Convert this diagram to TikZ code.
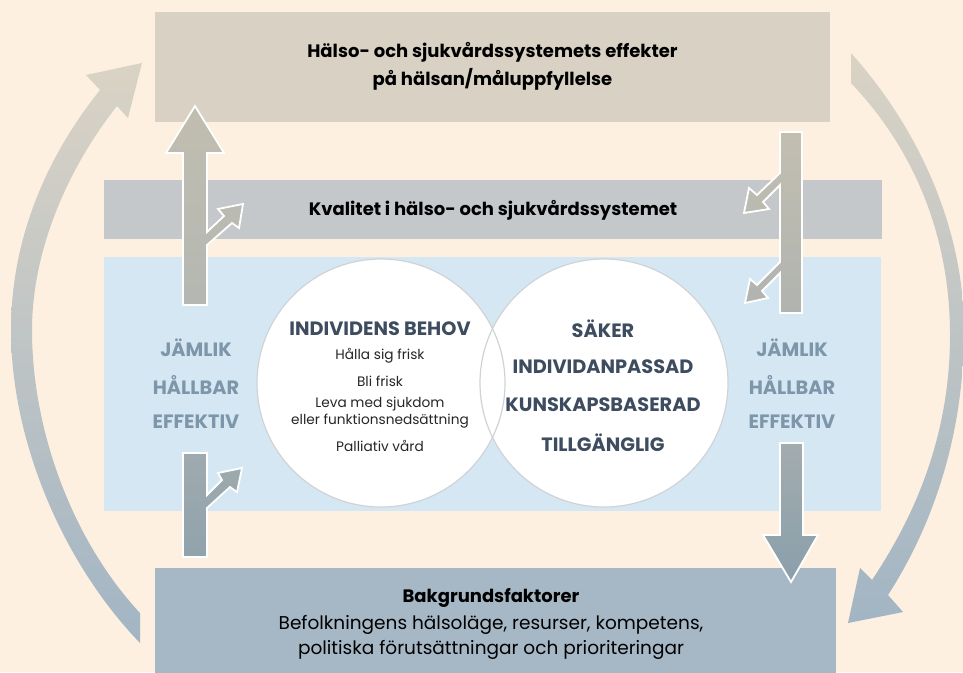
\documentclass[tikz,border=0pt]{standalone}
\usepackage{fontspec}
\setmainfont{Poppins}
\definecolor{bg}{RGB}{253,240,225}
\definecolor{topc}{RGB}{217,210,196}
\definecolor{kvalc}{RGB}{197,200,203}
\definecolor{bluec}{RGB}{214,231,244}
\definecolor{botc}{RGB}{166,184,198}
\definecolor{circc}{RGB}{208,211,214}
\definecolor{darktext}{RGB}{61,76,94}
\definecolor{sidetext}{RGB}{125,150,170}
\definecolor{arcTop}{RGB}{218,211,197}
\definecolor{arcBot}{RGB}{162,181,196}
\definecolor{ltTop}{RGB}{193,190,176}
\definecolor{ltBot}{RGB}{180,183,178}
\definecolor{lbTop}{RGB}{158,170,175}
\definecolor{lbBot}{RGB}{146,163,172}
\definecolor{rtTop}{RGB}{194,191,177}
\definecolor{rtBot}{RGB}{176,179,175}
\definecolor{rbTop}{RGB}{163,172,175}
\definecolor{rbBot}{RGB}{138,159,171}
\tikzset{
  band/.style={inner sep=0pt, outer sep=0pt},
  boxtxt/.style={font=\bfseries\fontsize{18}{28}\selectfont, align=center, text=black, inner sep=0pt},
  capstxt/.style={font=\bfseries\fontsize{19.3}{22}\selectfont, text=darktext, inner sep=0pt},
  smalltxt/.style={font=\fontsize{13.7}{17}\selectfont, text=black!85, inner sep=0pt, align=center},
  sidetxt/.style={font=\bfseries\fontsize{19.3}{22}\selectfont, text=sidetext, inner sep=0pt},
  bottxt/.style={font=\fontsize{18.5}{26}\selectfont, text=black, inner sep=0pt, align=center},
  venn/.style={circle, fill=white, draw=circc, line width=1.2pt, minimum size=248pt, inner sep=0pt},
  bigarrow/.style={draw=white, line width=1.8pt},
  arcarrow/.style={top color=arcTop, bottom color=arcBot, draw=none},
}
\begin{document}
\begin{tikzpicture}[x=1pt,y=-1pt]
\fill[bg] (0,0) rectangle (963,672);
\useasboundingbox (0,0) rectangle (963,672);

% big circular arrows
\path[arcarrow] (140,643) .. controls (62,562) and (11,440) .. (11,330)
  .. controls (11,242) and (44,160) .. (100,90)
  -- (86,75) -- (142,63) -- (128,118) -- (117,106)
  .. controls (68,168) and (32,250) .. (32,330)
  .. controls (32,430) and (72,540) .. (140,613) -- cycle;
\path[arcarrow] (851,53) .. controls (920,130) and (964,230) .. (964,330)
  .. controls (964,440) and (930,530) .. (888,595)
  -- (903,612) -- (848,623) -- (860,568) -- (872,580)
  .. controls (912,520) and (950,440) .. (950,335)
  .. controls (950,230) and (910,145) .. (851,83) -- cycle;

% boxes and bands
\node[band, fill=topc, minimum width=675pt, minimum height=110pt] (top) at (492.5,67) {};
\node[band, fill=kvalc, minimum width=778pt, minimum height=59pt] (kval) at (493,209.5) {};
\node[band, fill=bluec, minimum width=777pt, minimum height=254pt] (blue) at (492.5,384) {};
\node[band, fill=botc, minimum width=681pt, minimum height=110pt] (bot) at (495.5,623) {};

% Venn circles
\node[venn] (lc) at (381,383) {};
\node[venn] (rc) at (604,383) {};
\begin{scope}
  \clip (604,383) circle (124);
  \draw[circc, line width=1.2pt] (381,383) circle (124);
\end{scope}

% texts
\node[boxtxt] (toptxt) at (492.5,66) {Hälso- och sjukvårdssystemets effekter\\på hälsan/måluppfyllelse};
\node[boxtxt] (kvaltxt) at (493,210) {Kvalitet i hälso- och sjukvårdssystemet};

\node[capstxt] (behov) at (380,329) {INDIVIDENS BEHOV};
\node[smalltxt] (s1) at (380,356) {Hålla sig frisk};
\node[smalltxt] (s2) at (380,381) {Bli frisk};
\node[smalltxt] (s3) at (380,413) {Leva med sjukdom\\eller funktionsnedsättning};
\node[smalltxt] (s4) at (380,446) {Palliativ vård};

\node[capstxt] (r1) at (603,329) {SÄKER};
\node[capstxt] (r2) at (603,367) {INDIVIDANPASSAD};
\node[capstxt] (r3) at (603,405) {KUNSKAPSBASERAD};
\node[capstxt] (r4) at (603,443) {TILLGÄNGLIG};

\node[sidetxt] (l1) at (196,348) {JÄMLIK};
\node[sidetxt] (l2) at (196,385) {HÅLLBAR};
\node[sidetxt] (l3) at (196,422) {EFFEKTIV};
\node[sidetxt] (rr1) at (792,348) {JÄMLIK};
\node[sidetxt] (rr2) at (792,385) {HÅLLBAR};
\node[sidetxt] (rr3) at (792,422) {EFFEKTIV};

\node[bottxt, font=\bfseries\fontsize{18}{26}\selectfont] (bt1) at (491,598) {Bakgrundsfaktorer};
\node[bottxt] (bt2) at (491,625) {Befolkningens hälsoläge, resurser, kompetens,};
\node[bottxt] (bt3) at (491,650) {politiska förutsättningar och prioriteringar};

% straight arrows
\path[bigarrow, top color=ltTop, bottom color=ltBot]
  (195,106) -- (224,153) -- (207,153) -- (207,232) -- (224,216) -- (218,209)
  -- (243,204) -- (239,228) -- (232,223) -- (207,245) -- (207,305)
  -- (183,305) -- (183,153) -- (166,153) -- cycle;
\path[bigarrow, top color=lbTop, bottom color=lbBot]
  (183,453) -- (207,453) -- (207,495) -- (222,480) -- (218,473) -- (242,468)
  -- (237,492) -- (230,487) -- (207,508) -- (207,557) -- (183,557) -- cycle;
\path[bigarrow, top color=rtTop, bottom color=rtBot]
  (780,132) -- (802,132) -- (802,313) -- (780,313) -- (780,273) -- (762,291)
  -- (768,298) -- (745,303) -- (750,279) -- (757,285) -- (780,262)
  -- (780,185) -- (763,202) -- (769,209) -- (744,213) -- (749,188)
  -- (757,195) -- (780,173) -- cycle;
\path[bigarrow, top color=rbTop, bottom color=rbBot]
  (780,443) -- (803,443) -- (803,535) -- (818,535) -- (791,582)
  -- (763,535) -- (780,535) -- cycle;
\end{tikzpicture}
\end{document}
